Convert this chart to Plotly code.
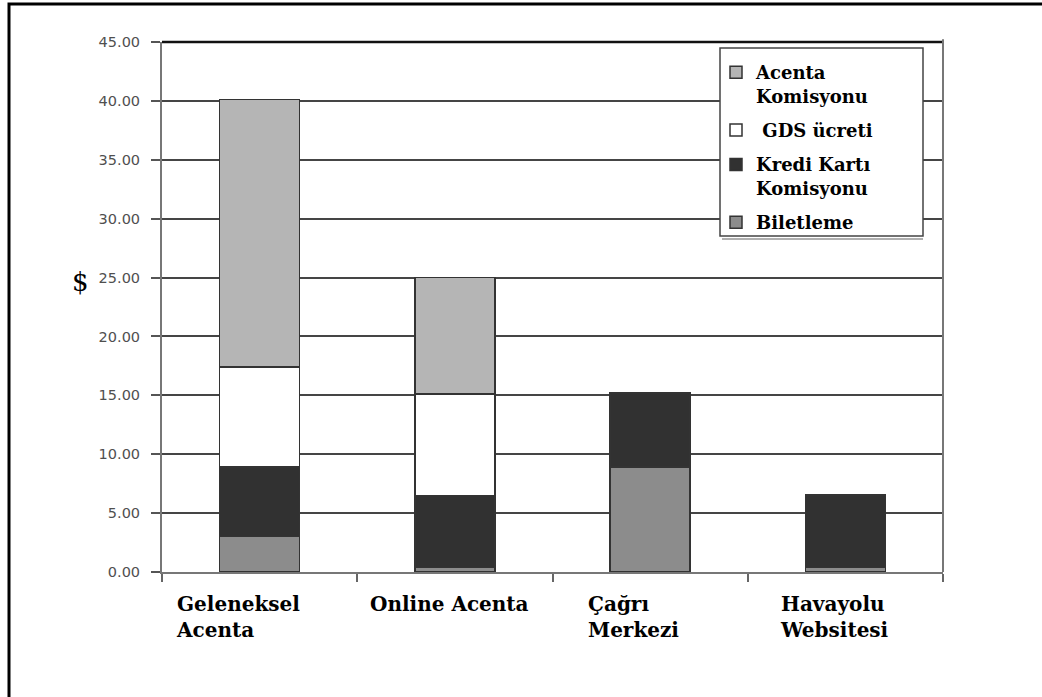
import plotly.graph_objects as go

# Distribution channels and cost components (USD per ticket)
channels = ["Geleneksel Acenta", "Online Acenta", "Çağrı Merkezi", "Havayolu Websitesi"]
channel_labels = ["Geleneksel<br>Acenta", "Online Acenta", "Çağrı<br>Merkezi", "Havayolu<br>Websitesi"]

biletleme = [3.0, 0.4, 8.9, 0.4]
kredi_karti = [5.9, 6.1, 6.3, 6.15]
gds_ucreti = [8.5, 8.6, None, None]
acenta_komisyonu = [22.7, 9.9, None, None]

y_ticks = [0, 5, 10, 15, 20, 25, 30, 35, 40, 45]

W, H = 1042, 697
ML, MR, MT, MB = 162, 99, 42, 125
PW, PH = W - ML - MR, H - MT - MB


def px_x(p):
    return (p - ML) / PW


def px_y(p):
    return (H - MB - p) / PH


# bottom-to-top stacking order; legend lists them top-to-bottom
series = [
    ("Biletleme", biletleme, "#8c8c8c"),
    ("Kredi Kartı<br>Komisyonu", kredi_karti, "#313131"),
    (" GDS ücreti", gds_ucreti, "#ffffff"),
    ("Acenta<br>Komisyonu", acenta_komisyonu, "#b5b5b5"),
]

fig = go.Figure()
for i, (name, vals, color) in enumerate(series):
    fig.add_trace(go.Bar(
        x=channels, y=vals, name=name,
        legendgroup=f"g{i}", legendrank=len(series) - i,
        marker=dict(color=color, line=dict(color="#333333", width=1.5)),
        width=0.41,
    ))

fig.update_layout(
    width=W, height=H,
    margin=dict(l=ML, r=MR, t=MT, b=MB),
    barmode="stack",
    plot_bgcolor="white", paper_bgcolor="white",
    showlegend=True,
    legend=dict(
        x=px_x(716), y=px_y(54), xanchor="left", yanchor="top",
        bgcolor="rgba(0,0,0,0)", borderwidth=0,
        font=dict(family="DejaVu Serif", size=18, color="black", weight="bold"),
        traceorder="grouped", valign="top", tracegroupgap=8,
    ),
    xaxis=dict(
        showticklabels=False, tickson="boundaries", ticks="outside",
        ticklen=8, tickcolor="#666666", tickwidth=1.5,
        showline=True, linecolor="#777777", linewidth=2,
        showgrid=False,
    ),
    yaxis=dict(
        range=[0, 45], tickvals=y_ticks,
        ticktext=[f"{v:.2f}" for v in y_ticks],
        ticks="outside", ticklen=9, tickcolor="#555555", tickwidth=1.5,
        ticklabelstandoff=8,
        tickfont=dict(family="DejaVu Sans", size=14.5, color="#4f4f4f"),
        showline=True, linecolor="#777777", linewidth=2,
        showgrid=True, gridcolor="#454545", gridwidth=1.5,
        zeroline=False,
    ),
)

# Category labels, left-aligned beneath each group
label_shift = [-86, -87, -64, -67]
for ch, lab, dx in zip(channels, channel_labels, label_shift):
    fig.add_annotation(
        x=ch, y=px_y(590), xref="x", yref="paper",
        text=lab, showarrow=False, xanchor="left", yanchor="top",
        align="left", xshift=dx,
        font=dict(family="DejaVu Serif", size=20, color="black", weight="bold"),
    )

# Y axis unit label
fig.add_annotation(
    x=px_x(70), y=px_y(282), xref="paper", yref="paper",
    text="$", showarrow=False,
    font=dict(family="DejaVu Serif", size=26, color="black"),
)

# Top border of the plot, right edge of the plot, outer frame
fig.add_shape(type="line", xref="paper", yref="paper",
              x0=0, x1=1, y0=1, y1=1, line=dict(color="#111111", width=2.5))
fig.add_shape(type="line", xref="paper", yref="paper",
              x0=1, x1=1, y0=0, y1=1.005, line=dict(color="#777777", width=2))
fig.add_shape(type="rect", xref="paper", yref="paper",
              x0=px_x(9), x1=px_x(1060), y0=px_y(720), y1=px_y(4),
              line=dict(color="black", width=3), layer="below")

# Legend frame with a faint shadow along its bottom edge
fig.add_shape(type="line", xref="paper", yref="paper",
              x0=px_x(722), x1=px_x(923), y0=px_y(239), y1=px_y(239),
              line=dict(color="#b0b0b0", width=2), layer="above")
fig.add_shape(type="rect", xref="paper", yref="paper",
              x0=px_x(720), x1=px_x(923), y0=px_y(236), y1=px_y(48),
              line=dict(color="#444444", width=1.5), fillcolor="white",
              layer="above")

fig.write_html("out.html")
